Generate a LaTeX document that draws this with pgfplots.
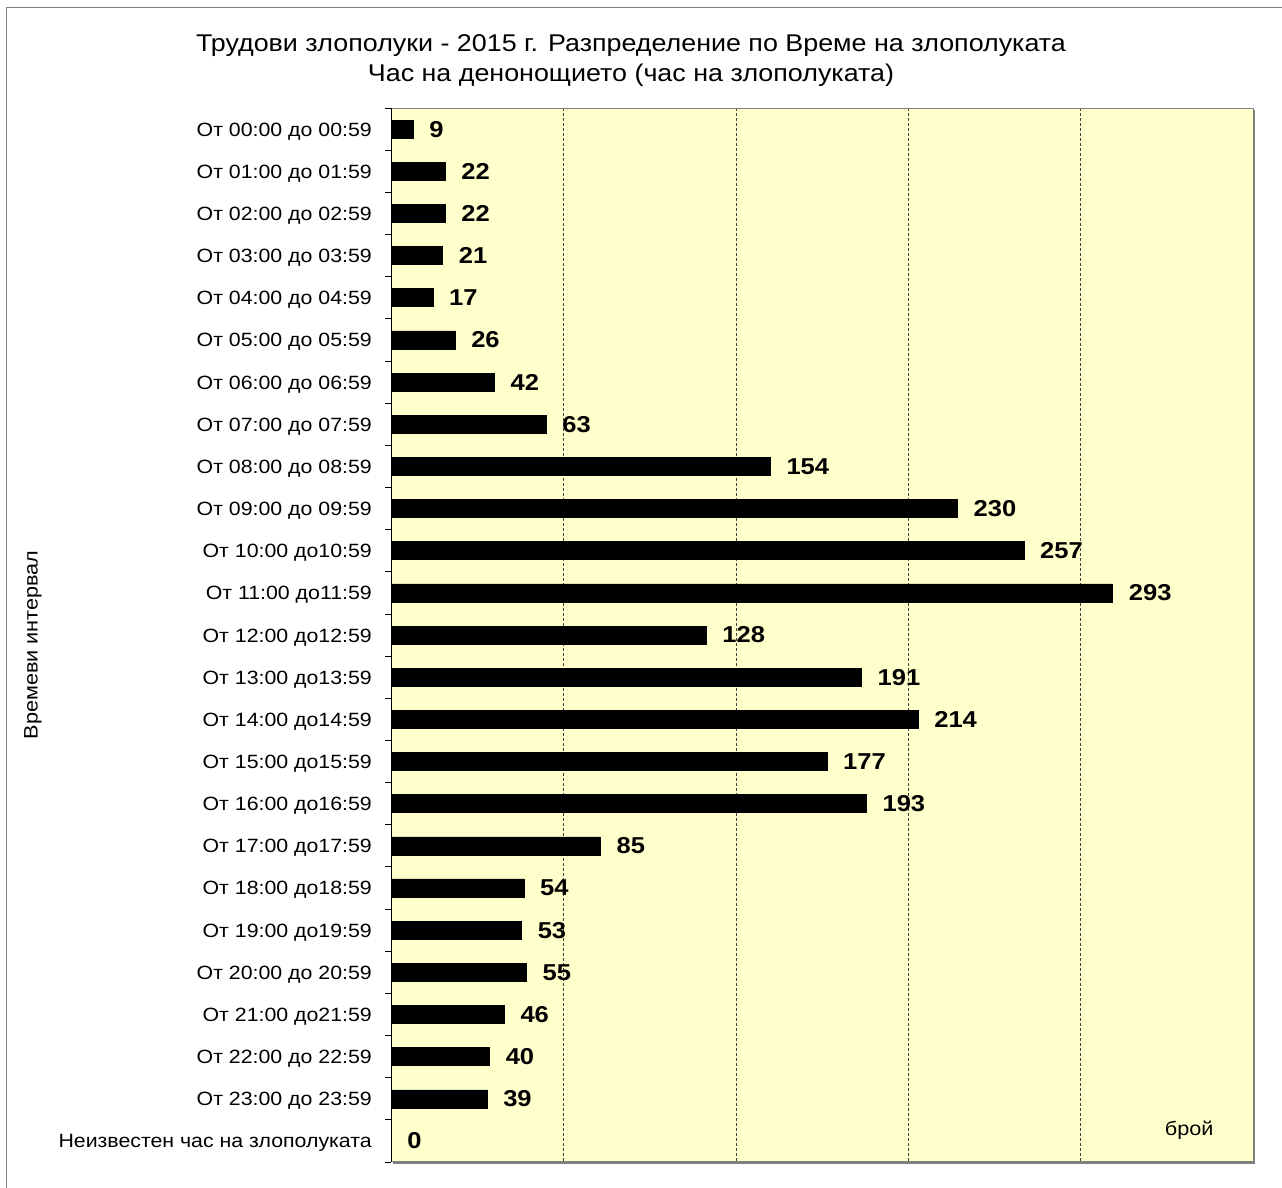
\documentclass[border=0pt]{standalone}
\usepackage{pgfplots}
\pgfplotsset{compat=1.18}
\usepackage{pgfplotstable}
\usepackage{fontspec}
\setmainfont{Liberation Sans}[FakeStretch=1.11]
\definecolor{plotbg}{RGB}{255,255,204}
\definecolor{framegray}{RGB}{128,128,128}

\pgfplotstableread{
idx val
0 9
1 22
2 22
3 21
4 17
5 26
6 42
7 63
8 154
9 230
10 257
11 293
12 128
13 191
14 214
15 177
16 193
17 85
18 54
19 53
20 55
21 46
22 40
23 39
24 0
}\datatable

\begin{document}
\begin{tikzpicture}[x=1pt,y=1pt]
\useasboundingbox (0,0) rectangle (1282,-1187);
\begin{scope}
\clip (0,0) rectangle (1282,-1187);
\draw[framegray, line width=1.5pt] (6.5,-7.5) rectangle (1300,-1200);
\end{scope}
\node[align=center, font=\fontsize{24.2}{30}\selectfont] at (631,-61)
  {Трудови злополуки - 2015 г. Разпределение по Време на злополуката\\Час на денонощието (час на злополуката)};
\node[rotate=90, font=\fontsize{19.5}{22}\selectfont] at (33,-645) {Времеви интервал};
\fill[framegray] (393,-110) rectangle (1255,-1164);
\begin{axis}[
  at={(391pt,-108pt)}, anchor=north west,
  width=862pt, height=1054pt, scale only axis,
  xmin=0, xmax=350, ymin=-0.5, ymax=24.5, y dir=reverse,
  axis background/.style={fill=plotbg},
  axis line style={framegray, line width=1pt},
  xbar, bar width=18pt,
  xtick={70,140,210,280}, xticklabels={},
  xmajorgrids, major x grid style={densely dashed, black!75, line width=0.6pt},
  ytick={0,...,24},
  yticklabels={От 00:00 до 00:59,От 01:00 до 01:59,От 02:00 до 02:59,От 03:00 до 03:59,От 04:00 до 04:59,От 05:00 до 05:59,От 06:00 до 06:59,От 07:00 до 07:59,От 08:00 до 08:59,От 09:00 до 09:59,От 10:00 до10:59,От 11:00 до11:59,От 12:00 до12:59,От 13:00 до13:59,От 14:00 до14:59,От 15:00 до15:59,От 16:00 до16:59,От 17:00 до17:59,От 18:00 до18:59,От 19:00 до19:59,От 20:00 до 20:59,От 21:00 до21:59,От 22:00 до 22:59,От 23:00 до 23:59,Неизвестен час на злополуката},
  minor ytick={-0.5,0.5,...,24.5},
  major tick length=0pt, minor tick length=6pt, tick align=outside,
  ytick pos=left, xtick pos=bottom,
  minor y tick style={black, line width=0.8pt},
  yticklabel style={font=\fontsize{19.2}{22}\selectfont, inner sep=0pt, xshift=-19pt, anchor=base east, yshift=-7pt},
  nodes near coords,
  every node near coord/.append style={font=\fontsize{23}{26}\selectfont\bfseries, anchor=west, inner sep=0pt, xshift=16pt, /pgf/number format/assume math mode=true},
  clip=false,
]
\addplot[fill=black, draw=black, line width=0.5pt] table[x=val, y=idx] {\datatable};
\draw[black, line width=1pt] (axis description cs:0,0) -- (axis description cs:0,1);
\node[font=\fontsize{19.5}{22}\selectfont] at (axis description cs:0.926,0.030) {брой};
\end{axis}
\end{tikzpicture}
\end{document}
